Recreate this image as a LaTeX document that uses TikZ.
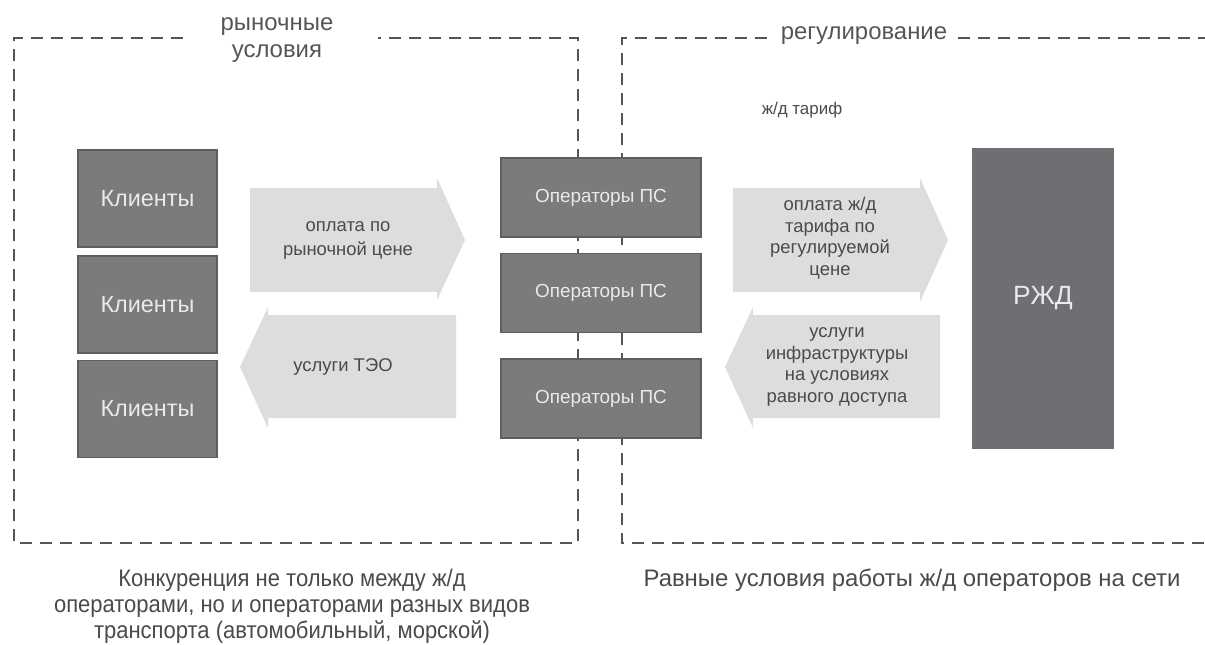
\documentclass[tikz,border=0pt]{standalone}
\usepackage{fontspec}
\setmainfont{Liberation Sans}
\newfontfamily\narrowfont[FakeStretch=0.92]{Liberation Sans}
\definecolor{boxgray}{HTML}{7B7B7D}
\definecolor{boxedge}{HTML}{5E5E60}
\definecolor{rzdgray}{HTML}{6E6F72}
\definecolor{arrowgray}{HTML}{DDDDDD}
\definecolor{dashgray}{HTML}{555555}
\definecolor{txtgray}{HTML}{4A4A4A}
\definecolor{boxtxt}{HTML}{EAEAEA}
\tikzset{
  x=1bp, y=-1bp,
  dashline/.style={draw=dashgray, line width=2bp, dash pattern=on 12bp off 8bp},
  darkbox/.style={draw=boxedge, line width=1.2bp, fill=boxgray, text=boxtxt, font=\fontsize{23.5}{26}\selectfont, inner sep=0pt},
  opbox/.style={darkbox, minimum width=200bp, minimum height=79bp, font=\fontsize{19}{22}\selectfont},
  clbox/.style={darkbox, minimum width=139bp, minimum height=97bp},
  flow/.style={fill=arrowgray, draw=none},
  flowtxt/.style={text=txtgray, align=center, font=\fontsize{18.5}{21.7}\selectfont, inner sep=0pt},
  title/.style={text=dashgray, align=center, font=\fontsize{24}{27}\selectfont, inner sep=0pt},
  note/.style={text=txtgray, align=center, font=\fontsize{24}{26}\selectfont, inner sep=0pt}
}
\begin{document}
\begin{tikzpicture}
\useasboundingbox (0,0) rectangle (1205,645);
% dashed frames
\coordinate (L1) at (14,38); \coordinate (L2) at (183,38);
\coordinate (L3) at (378,38); \coordinate (L4) at (578,38);
\coordinate (L5) at (578,543); \coordinate (L6) at (14,543);
\draw[dashline] (L2) -- (L1) -- (L6) -- (L5) -- (L4) -- (L3);
\coordinate (R1) at (622,38); \coordinate (R2) at (767,38);
\coordinate (R3) at (958,38); \coordinate (R4) at (1205,38);
\coordinate (R5) at (622,543); \coordinate (R6) at (1205,543);
\draw[dashline] (R2) -- (R1) -- (R5) -- (R6);
\draw[dashline] (R3) -- (R4);
\node[title] (t1) at (277,40) {рыночные\\условия};
\node[title] (t2) at (864,36) {регулирование};
\node[flowtxt, font=\fontsize{17}{20}\selectfont] (tar) at (802,110) {ж/д тариф};
% clients
\node[clbox] (c1) at (147.5,198.5) {Клиенты};
\node[clbox] (c2) at (147.5,304.5) {Клиенты};
\node[clbox] (c3) at (147.5,409) {Клиенты};
% operators
\node[opbox] (o1) at (601,197.5) {Операторы ПС};
\node[opbox] (o2) at (601,293) {Операторы ПС};
\node[opbox] (o3) at (601,398.5) {Операторы ПС};
% RZD
\node[darkbox, fill=rzdgray, draw=rzdgray, minimum width=140bp, minimum height=299bp, font=\fontsize{26.5}{30}\selectfont] (rzd) at (1043,298.5) {РЖД};
% flow arrows
\fill[flow] (250,188) -- (437,188) -- (437,178) -- (465,240) -- (437,300) -- (437,292) -- (250,292) -- cycle;
\node[flowtxt, font=\fontsize{18.5}{24}\selectfont] (a1) at (348,240) {оплата по\\рыночной цене};
\fill[flow] (456,315) -- (268,315) -- (268,307) -- (240,367) -- (268,428) -- (268,418) -- (456,418) -- cycle;
\node[flowtxt] (a2) at (343,367) {услуги ТЭО};
\fill[flow] (733,188) -- (920,188) -- (920,178) -- (948,240) -- (920,302) -- (920,292) -- (733,292) -- cycle;
\node[flowtxt] (a3) at (830,238) {оплата ж/д\\тарифа по\\регулируемой\\цене};
\fill[flow] (940,315) -- (753,315) -- (753,307) -- (725,367) -- (753,428) -- (753,418) -- (940,418) -- cycle;
\node[flowtxt] (a4) at (837,367) {услуги\\инфраструктуры\\на условиях\\равного доступа};
% notes
\node[note, font=\narrowfont\fontsize{24}{26}\selectfont] (n1) at (292,606) {Конкуренция не только между ж/д\\операторами, но и операторами разных видов\\транспорта (автомобильный, морской)};
\node[note] (n2) at (912,580) {Равные условия работы ж/д операторов на сети};
\end{tikzpicture}
\end{document}
